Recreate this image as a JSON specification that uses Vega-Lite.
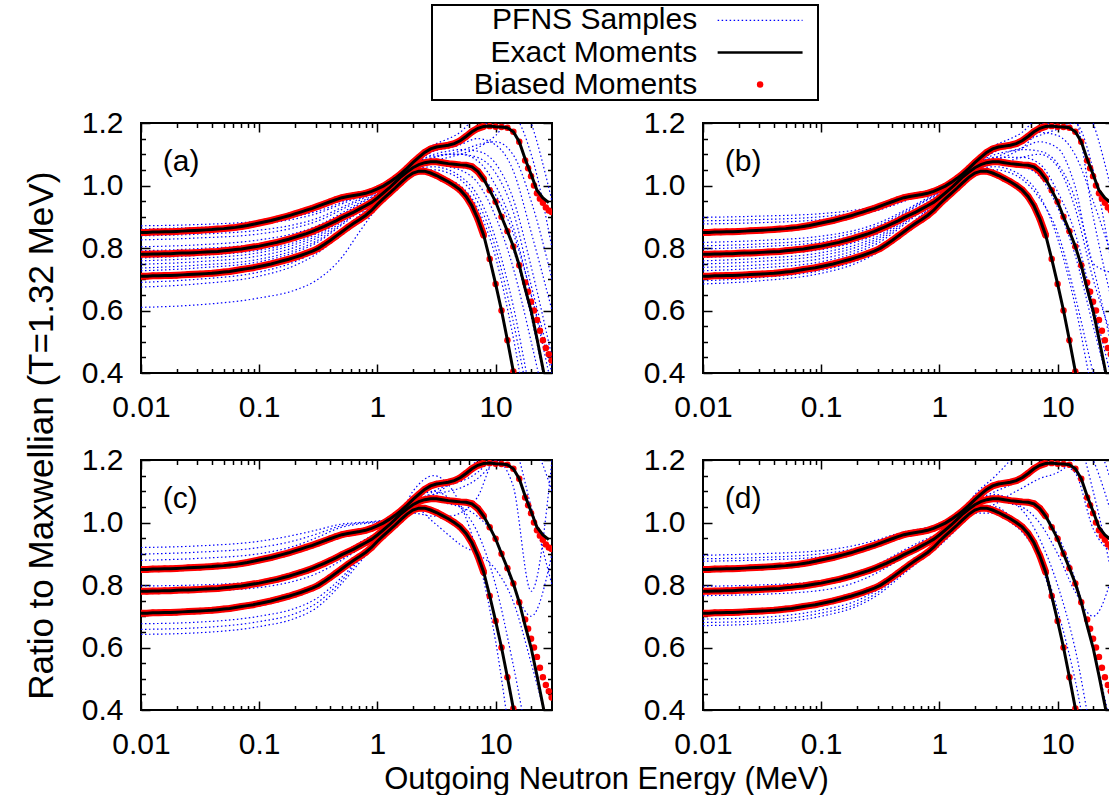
{
"$schema":"https://vega.github.io/schema/vega-lite/v6.json",
"padding":{"left":25,"top":4,"right":0,"bottom":0},
"config":{"font":"Liberation Sans","view":{"stroke":"black","strokeWidth":2},
"axis":{"tickColor":"black","tickWidth":1.5,"labelFontSize":30,"labelColor":"black","labelFont":"Liberation Sans","domain":false,"grid":false},
"title":{"fontSize":30,"fontWeight":"normal","color":"black","font":"Liberation Sans"}},
"datasets":{
"moments":[
{"e":0.01,"a":0.850,"b":0.780,"c":0.710},{"e":0.01122,"a":0.850,"b":0.780,"c":0.710},{"e":0.01259,"a":0.851,"b":0.781,"c":0.711},{"e":0.01413,"a":0.851,"b":0.781,"c":0.711},{"e":0.01585,"a":0.852,"b":0.782,"c":0.712},{"e":0.01778,"a":0.852,"b":0.782,"c":0.712},{"e":0.01995,"a":0.853,"b":0.783,"c":0.713},{"e":0.02239,"a":0.854,"b":0.784,"c":0.714},{"e":0.02512,"a":0.855,"b":0.784,"c":0.715},{"e":0.02818,"a":0.856,"b":0.785,"c":0.716},
{"e":0.03162,"a":0.857,"b":0.786,"c":0.717},{"e":0.03548,"a":0.858,"b":0.787,"c":0.718},{"e":0.03981,"a":0.859,"b":0.788,"c":0.719},{"e":0.04467,"a":0.861,"b":0.789,"c":0.721},{"e":0.05012,"a":0.862,"b":0.791,"c":0.723},{"e":0.05623,"a":0.864,"b":0.793,"c":0.725},{"e":0.0631,"a":0.866,"b":0.795,"c":0.728},{"e":0.07079,"a":0.869,"b":0.797,"c":0.731},{"e":0.07943,"a":0.872,"b":0.800,"c":0.734},{"e":0.08913,"a":0.876,"b":0.803,"c":0.737},
{"e":0.1,"a":0.880,"b":0.806,"c":0.741},{"e":0.1122,"a":0.884,"b":0.810,"c":0.745},{"e":0.1259,"a":0.888,"b":0.814,"c":0.749},{"e":0.1413,"a":0.893,"b":0.818,"c":0.754},{"e":0.1585,"a":0.898,"b":0.823,"c":0.759},{"e":0.1778,"a":0.903,"b":0.828,"c":0.764},{"e":0.1995,"a":0.909,"b":0.834,"c":0.770},{"e":0.2239,"a":0.915,"b":0.840,"c":0.776},{"e":0.2512,"a":0.921,"b":0.846,"c":0.783},{"e":0.2818,"a":0.927,"b":0.853,"c":0.790},
{"e":0.3162,"a":0.934,"b":0.861,"c":0.799},{"e":0.3548,"a":0.941,"b":0.869,"c":0.811},{"e":0.3981,"a":0.948,"b":0.878,"c":0.824},{"e":0.4467,"a":0.955,"b":0.887,"c":0.838},{"e":0.5012,"a":0.961,"b":0.897,"c":0.852},{"e":0.5623,"a":0.965,"b":0.906,"c":0.866},{"e":0.631,"a":0.968,"b":0.915,"c":0.879},{"e":0.7079,"a":0.971,"b":0.925,"c":0.891},{"e":0.7943,"a":0.975,"b":0.935,"c":0.904},{"e":0.8913,"a":0.981,"b":0.946,"c":0.920},
{"e":1.0,"a":0.989,"b":0.960,"c":0.940},{"e":1.122,"a":0.998,"b":0.976,"c":0.958},{"e":1.259,"a":1.010,"b":0.992,"c":0.975},{"e":1.413,"a":1.023,"b":1.010,"c":0.992},{"e":1.585,"a":1.038,"b":1.028,"c":1.010},{"e":1.778,"a":1.055,"b":1.043,"c":1.027},{"e":1.995,"a":1.073,"b":1.057,"c":1.040},{"e":2.239,"a":1.090,"b":1.067,"c":1.046},{"e":2.512,"a":1.106,"b":1.073,"c":1.046},{"e":2.818,"a":1.117,"b":1.076,"c":1.040},
{"e":3.162,"a":1.123,"b":1.076,"c":1.032},{"e":3.548,"a":1.126,"b":1.073,"c":1.022},{"e":3.981,"a":1.129,"b":1.070,"c":1.012},{"e":4.467,"a":1.134,"b":1.068,"c":1.000},{"e":5.012,"a":1.143,"b":1.066,"c":0.986},{"e":5.623,"a":1.157,"b":1.065,"c":0.965},{"e":6.31,"a":1.172,"b":1.060,"c":0.935},{"e":7.079,"a":1.183,"b":1.045,"c":0.893},{"e":7.943,"a":1.189,"b":1.020,"c":0.840},{"e":8.913,"a":1.190,"b":0.985,"c":0.765},
{"e":10.0,"a":1.188,"b":0.948,"c":0.685},{"e":11.22,"a":1.187,"b":0.900,"c":0.600},{"e":12.59,"a":1.185,"b":0.854,"c":0.505},{"e":14.13,"a":1.172,"b":0.805,"c":0.405},{"e":15.85,"a":1.140,"b":0.745,"c":0.300},{"e":17.78,"a":1.085,"b":0.670,"c":0.190},{"e":19.95,"a":1.036,"b":0.600,"c":0.080},{"e":22.39,"a":0.985,"b":0.510,"c":-0.03},{"e":25.12,"a":0.960,"b":0.415,"c":-0.14},{"e":28.18,"a":0.945,"b":0.320,"c":-0.25}
],
"tail":[
{"e":17.78,"a":1.080,"b":0.690},{"e":18.84,"a":1.055,"b":0.660},{"e":19.95,"a":1.030,"b":0.628},{"e":21.13,"a":1.000,"b":0.600},{"e":22.39,"a":0.975,"b":0.570},{"e":23.71,"a":0.958,"b":0.535},{"e":25.12,"a":0.945,"b":0.505},{"e":26.61,"a":0.930,"b":0.480},{"e":28.18,"a":0.920,"b":0.460},{"e":29.8,"a":0.915,"b":0.440}
],
"sa":[
{"e":0.01,"s1":0.871,"s2":0.861,"s3":0.839,"s4":0.826,"s5":0.804,"s6":0.791,"s7":0.768,"s8":0.759,"s9":0.748,"s10":0.736,"s11":0.727,"s12":0.690,"s13":0.675,"s14":0.610},
{"e":0.03,"s1":0.875,"s2":0.866,"s3":0.844,"s4":0.832,"s5":0.810,"s6":0.798,"s7":0.776,"s8":0.767,"s9":0.756,"s10":0.745,"s11":0.736,"s12":0.700,"s13":0.685,"s14":0.618},
{"e":0.1,"s1":0.886,"s2":0.877,"s3":0.857,"s4":0.845,"s5":0.826,"s6":0.814,"s7":0.793,"s8":0.785,"s9":0.775,"s10":0.764,"s11":0.756,"s12":0.723,"s13":0.710,"s14":0.640},
{"e":0.2,"s1":0.901,"s2":0.893,"s3":0.875,"s4":0.865,"s5":0.847,"s6":0.837,"s7":0.818,"s8":0.811,"s9":0.802,"s10":0.793,"s11":0.786,"s12":0.756,"s13":0.744,"s14":0.665},
{"e":0.3,"s1":0.916,"s2":0.909,"s3":0.893,"s4":0.884,"s5":0.869,"s6":0.860,"s7":0.844,"s8":0.837,"s9":0.830,"s10":0.821,"s11":0.815,"s12":0.789,"s13":0.779,"s14":0.695},
{"e":0.5,"s1":0.946,"s2":0.941,"s3":0.930,"s4":0.923,"s5":0.912,"s6":0.906,"s7":0.894,"s8":0.890,"s9":0.884,"s10":0.878,"s11":0.874,"s12":0.855,"s13":0.848,"s14":0.770},
{"e":0.7,"s1":0.968,"s2":0.964,"s3":0.957,"s4":0.952,"s5":0.944,"s6":0.940,"s7":0.932,"s8":0.929,"s9":0.925,"s10":0.921,"s11":0.917,"s12":0.905,"s13":0.899,"s14":0.850},
{"e":1,"s1":0.990,"s2":0.988,"s3":0.984,"s4":0.981,"s5":0.977,"s6":0.974,"s7":0.970,"s8":0.968,"s9":0.966,"s10":0.963,"s11":0.961,"s12":0.954,"s13":0.951,"s14":0.930},
{"e":1.5,"s1":1.03,"s2":1.03,"s3":1.025,"s4":1.02,"s5":1.025,"s6":1.02,"s7":1.01,"s8":1.02,"s9":1.015,"s10":1.02,"s11":1.02,"s12":1.005,"s13":1.01,"s14":1.0},
{"e":2,"s1":1.08,"s2":1.065,"s3":1.07,"s4":1.058,"s5":1.07,"s6":1.065,"s7":1.05,"s8":1.06,"s9":1.055,"s10":1.06,"s11":1.06,"s12":1.05,"s13":1.05,"s14":1.035},
{"e":3,"s1":1.13,"s2":1.10,"s3":1.11,"s4":1.076,"s5":1.11,"s6":1.095,"s7":1.06,"s8":1.09,"s9":1.07,"s10":1.09,"s11":1.08,"s12":1.05,"s13":1.07,"s14":1.04},
{"e":4,"s1":1.15,"s2":1.11,"s3":1.12,"s4":1.07,"s5":1.13,"s6":1.10,"s7":1.05,"s8":1.10,"s9":1.06,"s10":1.10,"s11":1.09,"s12":1.04,"s13":1.07,"s14":1.02},
{"e":5,"s1":1.17,"s2":1.115,"s3":1.13,"s4":1.066,"s5":1.15,"s6":1.10,"s7":1.03,"s8":1.11,"s9":1.05,"s10":1.10,"s11":1.10,"s12":1.02,"s13":1.06,"s14":1.00},
{"e":7,"s1":1.23,"s2":1.11,"s3":1.15,"s4":1.045,"s5":1.18,"s6":1.08,"s7":0.97,"s8":1.13,"s9":1.01,"s10":1.09,"s11":1.12,"s12":0.95,"s13":1.04,"s14":0.93},
{"e":10,"s1":1.30,"s2":1.07,"s3":1.13,"s4":0.948,"s5":1.22,"s6":1.00,"s7":0.83,"s8":1.14,"s9":0.90,"s10":1.04,"s11":1.16,"s12":0.80,"s13":0.97,"s14":0.77},
{"e":14,"s1":1.33,"s2":0.96,"s3":1.05,"s4":0.80,"s5":1.25,"s6":0.87,"s7":0.62,"s8":1.10,"s9":0.74,"s10":0.92,"s11":1.22,"s12":0.57,"s13":0.85,"s14":0.52},
{"e":20,"s1":1.20,"s2":0.74,"s3":0.85,"s4":0.58,"s5":1.30,"s6":0.65,"s7":0.33,"s8":0.95,"s9":0.50,"s10":0.68,"s11":1.10,"s12":0.28,"s13":0.65,"s14":0.20},
{"e":30,"s1":0.95,"s2":0.45,"s3":0.60,"s4":0.25,"s5":1.25,"s6":0.40,"s7":0.10,"s8":0.70,"s9":0.20,"s10":0.42,"s11":0.80,"s12":0.05,"s13":0.35,"s14":0.00}
],
"sb":[
{"e":0.01,"s1":0.898,"s2":0.887,"s3":0.877,"s4":0.818,"s5":0.807,"s6":0.797,"s7":0.770,"s8":0.759,"s9":0.749,"s10":0.738,"s11":0.727,"s12":0.695,"s13":0.685},
{"e":0.03,"s1":0.902,"s2":0.891,"s3":0.881,"s4":0.824,"s5":0.813,"s6":0.804,"s7":0.778,"s8":0.767,"s9":0.757,"s10":0.746,"s11":0.736,"s12":0.705,"s13":0.695},
{"e":0.1,"s1":0.910,"s2":0.900,"s3":0.891,"s4":0.838,"s5":0.828,"s6":0.819,"s7":0.795,"s8":0.785,"s9":0.776,"s10":0.766,"s11":0.756,"s12":0.728,"s13":0.719},
{"e":0.2,"s1":0.922,"s2":0.914,"s3":0.906,"s4":0.858,"s5":0.850,"s6":0.842,"s7":0.820,"s8":0.811,"s9":0.803,"s10":0.794,"s11":0.786,"s12":0.760,"s13":0.752},
{"e":0.3,"s1":0.935,"s2":0.927,"s3":0.920,"s4":0.879,"s5":0.871,"s6":0.864,"s7":0.845,"s8":0.837,"s9":0.830,"s10":0.823,"s11":0.815,"s12":0.793,"s13":0.786},
{"e":0.5,"s1":0.958,"s2":0.954,"s3":0.949,"s4":0.919,"s5":0.914,"s6":0.909,"s7":0.895,"s8":0.890,"s9":0.885,"s10":0.879,"s11":0.874,"s12":0.858,"s13":0.853},
{"e":0.7,"s1":0.977,"s2":0.973,"s3":0.970,"s4":0.949,"s5":0.945,"s6":0.942,"s7":0.933,"s8":0.929,"s9":0.925,"s10":0.921,"s11":0.917,"s12":0.906,"s13":0.903},
{"e":1,"s1":0.995,"s2":0.993,"s3":0.991,"s4":0.980,"s5":0.977,"s6":0.975,"s7":0.970,"s8":0.968,"s9":0.966,"s10":0.964,"s11":0.961,"s12":0.955,"s13":0.953},
{"e":1.5,"s1":1.03,"s2":1.03,"s3":1.025,"s4":1.02,"s5":1.025,"s6":1.02,"s7":1.015,"s8":1.02,"s9":1.015,"s10":1.02,"s11":1.01,"s12":1.005,"s13":1.0},
{"e":2,"s1":1.08,"s2":1.07,"s3":1.07,"s4":1.065,"s5":1.07,"s6":1.058,"s7":1.065,"s8":1.06,"s9":1.055,"s10":1.06,"s11":1.05,"s12":1.05,"s13":1.045},
{"e":3,"s1":1.13,"s2":1.115,"s3":1.11,"s4":1.10,"s5":1.11,"s6":1.076,"s7":1.09,"s8":1.08,"s9":1.07,"s10":1.09,"s11":1.06,"s12":1.07,"s13":1.05},
{"e":4,"s1":1.15,"s2":1.125,"s3":1.13,"s4":1.11,"s5":1.13,"s6":1.07,"s7":1.09,"s8":1.10,"s9":1.065,"s10":1.11,"s11":1.05,"s12":1.08,"s13":1.04},
{"e":5,"s1":1.17,"s2":1.14,"s3":1.15,"s4":1.115,"s5":1.14,"s6":1.066,"s7":1.09,"s8":1.12,"s9":1.06,"s10":1.12,"s11":1.03,"s12":1.09,"s13":1.02},
{"e":7,"s1":1.23,"s2":1.17,"s3":1.18,"s4":1.11,"s5":1.16,"s6":1.045,"s7":1.07,"s8":1.18,"s9":1.03,"s10":1.14,"s11":0.97,"s12":1.10,"s13":0.96},
{"e":10,"s1":1.30,"s2":1.16,"s3":1.22,"s4":1.07,"s5":1.18,"s6":0.948,"s7":0.98,"s8":1.26,"s9":0.93,"s10":1.12,"s11":0.83,"s12":1.06,"s13":0.85},
{"e":14,"s1":1.33,"s2":1.10,"s3":1.25,"s4":0.96,"s5":1.20,"s6":0.80,"s7":0.85,"s8":1.22,"s9":0.78,"s10":1.00,"s11":0.62,"s12":0.93,"s13":0.65},
{"e":20,"s1":1.20,"s2":0.95,"s3":1.30,"s4":0.74,"s5":1.05,"s6":0.58,"s7":0.62,"s8":0.90,"s9":0.55,"s10":0.75,"s11":0.33,"s12":0.70,"s13":0.40},
{"e":30,"s1":0.95,"s2":0.75,"s3":1.25,"s4":0.45,"s5":0.70,"s6":0.25,"s7":0.35,"s8":0.60,"s9":0.30,"s10":0.72,"s11":0.10,"s12":0.50,"s13":0.15}
],
"sc":[
{"e":0.01,"s1":0.920,"s2":0.899,"s3":0.879,"s4":0.797,"s5":0.776,"s6":0.676,"s7":0.658,"s8":0.642},
{"e":0.03,"s1":0.925,"s2":0.905,"s3":0.885,"s4":0.800,"s5":0.780,"s6":0.681,"s7":0.663,"s8":0.647},
{"e":0.1,"s1":0.940,"s2":0.920,"s3":0.900,"s4":0.812,"s5":0.792,"s6":0.700,"s7":0.683,"s8":0.667},
{"e":0.2,"s1":0.960,"s2":0.942,"s3":0.925,"s4":0.832,"s5":0.813,"s6":0.725,"s7":0.708,"s8":0.693},
{"e":0.3,"s1":0.975,"s2":0.962,"s3":0.950,"s4":0.855,"s5":0.835,"s6":0.755,"s7":0.740,"s8":0.725},
{"e":0.5,"s1":0.995,"s2":0.990,"s3":0.985,"s4":0.900,"s5":0.880,"s6":0.825,"s7":0.815,"s8":0.805},
{"e":0.7,"s1":1.000,"s2":0.998,"s3":0.995,"s4":0.935,"s5":0.915,"s6":0.885,"s7":0.880,"s8":0.870},
{"e":1,"s1":1.005,"s2":1.003,"s3":1.000,"s4":0.970,"s5":0.955,"s6":0.950,"s7":0.945,"s8":0.940},
{"e":1.5,"s1":1.02,"s2":1.02,"s3":1.01,"s4":1.03,"s5":1.02,"s6":1.02,"s7":1.02,"s8":1.03},
{"e":2,"s1":1.05,"s2":1.10,"s3":1.03,"s4":1.07,"s5":1.06,"s6":1.05,"s7":1.06,"s8":1.07},
{"e":3,"s1":1.10,"s2":1.15,"s3":1.02,"s4":1.09,"s5":1.07,"s6":1.00,"s7":1.09,"s8":1.10},
{"e":4,"s1":1.12,"s2":1.12,"s3":1.02,"s4":1.10,"s5":1.06,"s6":0.96,"s7":1.12,"s8":1.08},
{"e":5,"s1":1.13,"s2":1.06,"s3":1.03,"s4":1.11,"s5":1.05,"s6":0.93,"s7":1.15,"s8":1.05},
{"e":7,"s1":1.16,"s2":0.90,"s3":1.08,"s4":1.14,"s5":1.02,"s6":0.90,"s7":1.20,"s8":0.97},
{"e":10,"s1":1.22,"s2":0.62,"s3":1.20,"s4":1.20,"s5":0.95,"s6":0.85,"s7":1.28,"s8":0.80},
{"e":14,"s1":1.30,"s2":0.25,"s3":1.12,"s4":1.27,"s5":0.80,"s6":0.75,"s7":1.25,"s8":0.55},
{"e":20,"s1":1.30,"s2":-0.10,"s3":0.78,"s4":1.25,"s5":0.70,"s6":0.55,"s7":1.05,"s8":0.25},
{"e":30,"s1":1.20,"s2":-0.40,"s3":1.20,"s4":1.10,"s5":0.90,"s6":0.30,"s7":0.80,"s8":0.00}
],
"sd":[
{"e":0.01,"s1":0.895,"s2":0.884,"s3":0.876,"s4":0.796,"s5":0.788,"s6":0.766,"s7":0.691,"s8":0.680,"s9":0.670},
{"e":0.03,"s1":0.900,"s2":0.888,"s3":0.880,"s4":0.800,"s5":0.792,"s6":0.770,"s7":0.696,"s8":0.685,"s9":0.676},
{"e":0.1,"s1":0.910,"s2":0.900,"s3":0.890,"s4":0.812,"s5":0.804,"s6":0.783,"s7":0.720,"s8":0.710,"s9":0.700},
{"e":0.2,"s1":0.928,"s2":0.918,"s3":0.910,"s4":0.838,"s5":0.830,"s6":0.810,"s7":0.750,"s8":0.740,"s9":0.732},
{"e":0.3,"s1":0.945,"s2":0.937,"s3":0.930,"s4":0.866,"s5":0.858,"s6":0.840,"s7":0.785,"s8":0.776,"s9":0.768},
{"e":0.5,"s1":0.970,"s2":0.963,"s3":0.958,"s4":0.912,"s5":0.905,"s6":0.890,"s7":0.850,"s8":0.842,"s9":0.836},
{"e":0.7,"s1":0.980,"s2":0.975,"s3":0.970,"s4":0.940,"s5":0.935,"s6":0.925,"s7":0.890,"s8":0.885,"s9":0.880},
{"e":1,"s1":0.993,"s2":0.990,"s3":0.988,"s4":0.968,"s5":0.965,"s6":0.960,"s7":0.935,"s8":0.930,"s9":0.925},
{"e":1.5,"s1":1.03,"s2":1.025,"s3":1.02,"s4":1.02,"s5":1.02,"s6":1.02,"s7":1.00,"s8":1.00,"s9":0.99},
{"e":2,"s1":1.09,"s2":1.07,"s3":1.06,"s4":1.06,"s5":1.065,"s6":1.05,"s7":1.03,"s8":1.05,"s9":1.04},
{"e":3,"s1":1.15,"s2":1.12,"s3":1.09,"s4":1.08,"s5":1.10,"s6":1.05,"s7":1.03,"s8":1.07,"s9":1.06},
{"e":4,"s1":1.20,"s2":1.13,"s3":1.07,"s4":1.07,"s5":1.12,"s6":1.02,"s7":1.00,"s8":1.06,"s9":1.09},
{"e":5,"s1":1.24,"s2":1.14,"s3":1.04,"s4":1.065,"s5":1.14,"s6":0.99,"s7":0.97,"s8":1.05,"s9":1.11},
{"e":7,"s1":1.30,"s2":1.18,"s3":0.95,"s4":1.04,"s5":1.19,"s6":0.90,"s7":0.88,"s8":1.00,"s9":1.14},
{"e":10,"s1":1.35,"s2":1.19,"s3":0.80,"s4":0.96,"s5":1.25,"s6":0.72,"s7":0.68,"s8":0.90,"s9":1.16},
{"e":14,"s1":1.30,"s2":1.16,"s3":0.60,"s4":0.82,"s5":1.30,"s6":0.50,"s7":0.42,"s8":0.78,"s9":1.20},
{"e":20,"s1":1.10,"s2":0.98,"s3":0.30,"s4":0.60,"s5":1.20,"s6":0.20,"s7":0.10,"s8":0.70,"s9":1.25},
{"e":30,"s1":0.80,"s2":0.90,"s3":0.10,"s4":0.30,"s5":1.00,"s6":0.00,"s7":-0.10,"s8":0.85,"s9":1.10}
]
},
"title":{"text":"Outgoing Neutron Energy (MeV)","orient":"bottom","anchor":"middle","dx":36,"offset":0,"fontSize":31},
"spacing":6,
"vconcat":[
{"spacing":0,"hconcat":[
{"width":290,"height":95,"view":{"stroke":null},"data":{"values":[{}]},"mark":{"type":"text","text":""},"encoding":{}},
{"width":386,"height":95,
"data":{"values":[{"k":1,"lab":"PFNS Samples"},{"k":2,"lab":"Exact Moments"},{"k":3,"lab":"Biased Moments"}]},
"encoding":{"y":{"field":"k","type":"ordinal","scale":{"type":"point","padding":0.48},"axis":null}},
"layer":[
{"mark":{"type":"text","align":"right","baseline":"middle","fontSize":30,"color":"black"},"encoding":{"x":{"datum":0.687,"type":"quantitative","scale":{"domain":[0,1]},"axis":null},"text":{"field":"lab"}}},
{"transform":[{"filter":"datum.k==1"}],"mark":{"type":"rule","color":"#0000ff","strokeWidth":1.2,"strokeDash":[1.5,2.5]},"encoding":{"x":{"datum":0.74,"type":"quantitative","axis":null},"x2":{"datum":0.96}}},
{"transform":[{"filter":"datum.k==2"}],"mark":{"type":"rule","color":"black","strokeWidth":2.5},"encoding":{"x":{"datum":0.74,"type":"quantitative","axis":null},"x2":{"datum":0.96}}},
{"transform":[{"filter":"datum.k==3"}],"mark":{"type":"point","filled":true,"color":"#ff0000","size":42,"opacity":1},"encoding":{"x":{"datum":0.85,"type":"quantitative","axis":null}}}
]}
]},
{"title":{"text":"Ratio to Maxwellian (T=1.32 MeV)","orient":"left","anchor":"middle","offset":20,"fontSize":35},
"spacing":16,
"vconcat":[
{"spacing":88,"hconcat":[
{"width":411,"height":250,"layer":[
{"data":{"name":"sa"},"transform":[{"fold":["s1","s2","s3","s4","s5","s6","s7","s8","s9","s10","s11","s12","s13","s14"],"as":["sample","v"]}],"mark":{"type":"line","clip":true,"interpolate":"monotone","color":"#0000ff","strokeWidth":1.2,"strokeDash":[1.5,2.5]},
"encoding":{"x":{"field":"e","type":"quantitative","scale":{"type":"log","domain":[0.01,30],"nice":false},"axis":{"orient":"bottom","values":[0.01,0.02,0.03,0.04,0.05,0.06,0.07,0.08,0.09,0.1,0.2,0.3,0.4,0.5,0.6,0.7,0.8,0.9,1,2,3,4,5,6,7,8,9,10,20],"labelExpr":"datum.value==0.01?'0.01':datum.value==0.1?'0.1':datum.value==1?'1':datum.value==10?'10':''","tickSize":{"condition":{"test":"datum.value==0.01||datum.value==0.1||datum.value==1||datum.value==10","value":-9},"value":-4.5},"labelPadding":28,"labelFlush":false,"labelOverlap":false,"labelBound":false,"title":null}},
"y":{"field":"v","type":"quantitative","scale":{"domain":[0.4,1.2],"nice":false},"axis":{"orient":"left","values":[0.4,0.45,0.5,0.55,0.6,0.65,0.7,0.75,0.8,0.85,0.9,0.95,1.0,1.05,1.1,1.15,1.2],"labelExpr":"abs(datum.value*5-round(datum.value*5))<0.01?format(datum.value,'.1f'):''","tickSize":{"condition":{"test":"abs(datum.value*5-round(datum.value*5))<0.01","value":-9},"value":-4.5},"labelPadding":27,"labelFlush":false,"labelOverlap":false,"title":null}},
"detail":{"field":"sample"}}},
{"data":{"name":"moments"},"transform":[{"filter":"datum.e<8"},{"fold":["a","b","c"],"as":["curve","v"]}],"mark":{"type":"line","clip":true,"color":"#ff0000","strokeWidth":7},
"encoding":{"x":{"field":"e","type":"quantitative","axis":null},"y":{"field":"v","type":"quantitative","axis":null},"detail":{"field":"curve"}}},
{"data":{"name":"moments"},"transform":[{"filter":"datum.e<17"},{"fold":["a","b","c"],"as":["curve","v"]}],"mark":{"type":"point","clip":true,"filled":true,"color":"#ff0000","size":42,"opacity":1},
"encoding":{"x":{"field":"e","type":"quantitative","axis":{"orient":"top","values":[0.01,0.02,0.03,0.04,0.05,0.06,0.07,0.08,0.09,0.1,0.2,0.3,0.4,0.5,0.6,0.7,0.8,0.9,1,2,3,4,5,6,7,8,9,10,20],"labels":false,"tickSize":{"condition":{"test":"datum.value==0.01||datum.value==0.1||datum.value==1||datum.value==10","value":-9},"value":-4.5},"title":null}},
"y":{"field":"v","type":"quantitative","axis":{"orient":"right","values":[0.4,0.45,0.5,0.55,0.6,0.65,0.7,0.75,0.8,0.85,0.9,0.95,1.0,1.05,1.1,1.15,1.2],"labels":false,"tickSize":{"condition":{"test":"abs(datum.value*5-round(datum.value*5))<0.01","value":-9},"value":-4.5},"title":null}}}},
{"data":{"name":"tail"},"transform":[{"fold":["a","b"],"as":["curve","v"]}],"mark":{"type":"point","clip":true,"filled":true,"color":"#ff0000","size":42,"opacity":1},
"encoding":{"x":{"field":"e","type":"quantitative","axis":null},"y":{"field":"v","type":"quantitative","axis":null}}},
{"data":{"name":"moments"},"transform":[{"fold":["a","b","c"],"as":["curve","v"]}],"mark":{"type":"line","clip":true,"color":"black","strokeWidth":3},
"encoding":{"x":{"field":"e","type":"quantitative","axis":null},"y":{"field":"v","type":"quantitative","axis":null},"detail":{"field":"curve"}}},
{"data":{"values":[{"t":"(a)"}]},"mark":{"type":"text","align":"left","baseline":"middle","fontSize":30,"color":"black"},
"encoding":{"x":{"datum":0.0153,"type":"quantitative","axis":null},"y":{"datum":1.075,"type":"quantitative","axis":null},"text":{"field":"t"}}}
],"resolve":{"axis":{"x":"independent","y":"independent"}}},
{"width":411,"height":250,"layer":[
{"data":{"name":"sb"},"transform":[{"fold":["s1","s2","s3","s4","s5","s6","s7","s8","s9","s10","s11","s12","s13"],"as":["sample","v"]}],"mark":{"type":"line","clip":true,"interpolate":"monotone","color":"#0000ff","strokeWidth":1.2,"strokeDash":[1.5,2.5]},
"encoding":{"x":{"field":"e","type":"quantitative","scale":{"type":"log","domain":[0.01,30],"nice":false},"axis":{"orient":"bottom","values":[0.01,0.02,0.03,0.04,0.05,0.06,0.07,0.08,0.09,0.1,0.2,0.3,0.4,0.5,0.6,0.7,0.8,0.9,1,2,3,4,5,6,7,8,9,10,20],"labelExpr":"datum.value==0.01?'0.01':datum.value==0.1?'0.1':datum.value==1?'1':datum.value==10?'10':''","tickSize":{"condition":{"test":"datum.value==0.01||datum.value==0.1||datum.value==1||datum.value==10","value":-9},"value":-4.5},"labelPadding":28,"labelFlush":false,"labelOverlap":false,"labelBound":false,"title":null}},
"y":{"field":"v","type":"quantitative","scale":{"domain":[0.4,1.2],"nice":false},"axis":{"orient":"left","values":[0.4,0.45,0.5,0.55,0.6,0.65,0.7,0.75,0.8,0.85,0.9,0.95,1.0,1.05,1.1,1.15,1.2],"labelExpr":"abs(datum.value*5-round(datum.value*5))<0.01?format(datum.value,'.1f'):''","tickSize":{"condition":{"test":"abs(datum.value*5-round(datum.value*5))<0.01","value":-9},"value":-4.5},"labelPadding":27,"labelFlush":false,"labelOverlap":false,"title":null}},
"detail":{"field":"sample"}}},
{"data":{"name":"moments"},"transform":[{"filter":"datum.e<8"},{"fold":["a","b","c"],"as":["curve","v"]}],"mark":{"type":"line","clip":true,"color":"#ff0000","strokeWidth":7},
"encoding":{"x":{"field":"e","type":"quantitative","axis":null},"y":{"field":"v","type":"quantitative","axis":null},"detail":{"field":"curve"}}},
{"data":{"name":"moments"},"transform":[{"filter":"datum.e<17"},{"fold":["a","b","c"],"as":["curve","v"]}],"mark":{"type":"point","clip":true,"filled":true,"color":"#ff0000","size":42,"opacity":1},
"encoding":{"x":{"field":"e","type":"quantitative","axis":{"orient":"top","values":[0.01,0.02,0.03,0.04,0.05,0.06,0.07,0.08,0.09,0.1,0.2,0.3,0.4,0.5,0.6,0.7,0.8,0.9,1,2,3,4,5,6,7,8,9,10,20],"labels":false,"tickSize":{"condition":{"test":"datum.value==0.01||datum.value==0.1||datum.value==1||datum.value==10","value":-9},"value":-4.5},"title":null}},
"y":{"field":"v","type":"quantitative","axis":{"orient":"right","values":[0.4,0.45,0.5,0.55,0.6,0.65,0.7,0.75,0.8,0.85,0.9,0.95,1.0,1.05,1.1,1.15,1.2],"labels":false,"tickSize":{"condition":{"test":"abs(datum.value*5-round(datum.value*5))<0.01","value":-9},"value":-4.5},"title":null}}}},
{"data":{"name":"tail"},"transform":[{"fold":["a","b"],"as":["curve","v"]}],"mark":{"type":"point","clip":true,"filled":true,"color":"#ff0000","size":42,"opacity":1},
"encoding":{"x":{"field":"e","type":"quantitative","axis":null},"y":{"field":"v","type":"quantitative","axis":null}}},
{"data":{"name":"moments"},"transform":[{"fold":["a","b","c"],"as":["curve","v"]}],"mark":{"type":"line","clip":true,"color":"black","strokeWidth":3},
"encoding":{"x":{"field":"e","type":"quantitative","axis":null},"y":{"field":"v","type":"quantitative","axis":null},"detail":{"field":"curve"}}},
{"data":{"values":[{"t":"(b)"}]},"mark":{"type":"text","align":"left","baseline":"middle","fontSize":30,"color":"black"},
"encoding":{"x":{"datum":0.0153,"type":"quantitative","axis":null},"y":{"datum":1.075,"type":"quantitative","axis":null},"text":{"field":"t"}}}
],"resolve":{"axis":{"x":"independent","y":"independent"}}}
]},
{"spacing":88,"hconcat":[
{"width":411,"height":250,"layer":[
{"data":{"name":"sc"},"transform":[{"fold":["s1","s2","s3","s4","s5","s6","s7","s8"],"as":["sample","v"]}],"mark":{"type":"line","clip":true,"interpolate":"monotone","color":"#0000ff","strokeWidth":1.2,"strokeDash":[1.5,2.5]},
"encoding":{"x":{"field":"e","type":"quantitative","scale":{"type":"log","domain":[0.01,30],"nice":false},"axis":{"orient":"bottom","values":[0.01,0.02,0.03,0.04,0.05,0.06,0.07,0.08,0.09,0.1,0.2,0.3,0.4,0.5,0.6,0.7,0.8,0.9,1,2,3,4,5,6,7,8,9,10,20],"labelExpr":"datum.value==0.01?'0.01':datum.value==0.1?'0.1':datum.value==1?'1':datum.value==10?'10':''","tickSize":{"condition":{"test":"datum.value==0.01||datum.value==0.1||datum.value==1||datum.value==10","value":-9},"value":-4.5},"labelPadding":28,"labelFlush":false,"labelOverlap":false,"labelBound":false,"title":null}},
"y":{"field":"v","type":"quantitative","scale":{"domain":[0.4,1.2],"nice":false},"axis":{"orient":"left","values":[0.4,0.45,0.5,0.55,0.6,0.65,0.7,0.75,0.8,0.85,0.9,0.95,1.0,1.05,1.1,1.15,1.2],"labelExpr":"abs(datum.value*5-round(datum.value*5))<0.01?format(datum.value,'.1f'):''","tickSize":{"condition":{"test":"abs(datum.value*5-round(datum.value*5))<0.01","value":-9},"value":-4.5},"labelPadding":27,"labelFlush":false,"labelOverlap":false,"title":null}},
"detail":{"field":"sample"}}},
{"data":{"name":"moments"},"transform":[{"filter":"datum.e<8"},{"fold":["a","b","c"],"as":["curve","v"]}],"mark":{"type":"line","clip":true,"color":"#ff0000","strokeWidth":7},
"encoding":{"x":{"field":"e","type":"quantitative","axis":null},"y":{"field":"v","type":"quantitative","axis":null},"detail":{"field":"curve"}}},
{"data":{"name":"moments"},"transform":[{"filter":"datum.e<17"},{"fold":["a","b","c"],"as":["curve","v"]}],"mark":{"type":"point","clip":true,"filled":true,"color":"#ff0000","size":42,"opacity":1},
"encoding":{"x":{"field":"e","type":"quantitative","axis":{"orient":"top","values":[0.01,0.02,0.03,0.04,0.05,0.06,0.07,0.08,0.09,0.1,0.2,0.3,0.4,0.5,0.6,0.7,0.8,0.9,1,2,3,4,5,6,7,8,9,10,20],"labels":false,"tickSize":{"condition":{"test":"datum.value==0.01||datum.value==0.1||datum.value==1||datum.value==10","value":-9},"value":-4.5},"title":null}},
"y":{"field":"v","type":"quantitative","axis":{"orient":"right","values":[0.4,0.45,0.5,0.55,0.6,0.65,0.7,0.75,0.8,0.85,0.9,0.95,1.0,1.05,1.1,1.15,1.2],"labels":false,"tickSize":{"condition":{"test":"abs(datum.value*5-round(datum.value*5))<0.01","value":-9},"value":-4.5},"title":null}}}},
{"data":{"name":"tail"},"transform":[{"fold":["a","b"],"as":["curve","v"]}],"mark":{"type":"point","clip":true,"filled":true,"color":"#ff0000","size":42,"opacity":1},
"encoding":{"x":{"field":"e","type":"quantitative","axis":null},"y":{"field":"v","type":"quantitative","axis":null}}},
{"data":{"name":"moments"},"transform":[{"fold":["a","b","c"],"as":["curve","v"]}],"mark":{"type":"line","clip":true,"color":"black","strokeWidth":3},
"encoding":{"x":{"field":"e","type":"quantitative","axis":null},"y":{"field":"v","type":"quantitative","axis":null},"detail":{"field":"curve"}}},
{"data":{"values":[{"t":"(c)"}]},"mark":{"type":"text","align":"left","baseline":"middle","fontSize":30,"color":"black"},
"encoding":{"x":{"datum":0.0153,"type":"quantitative","axis":null},"y":{"datum":1.075,"type":"quantitative","axis":null},"text":{"field":"t"}}}
],"resolve":{"axis":{"x":"independent","y":"independent"}}},
{"width":411,"height":250,"layer":[
{"data":{"name":"sd"},"transform":[{"fold":["s1","s2","s3","s4","s5","s6","s7","s8","s9"],"as":["sample","v"]}],"mark":{"type":"line","clip":true,"interpolate":"monotone","color":"#0000ff","strokeWidth":1.2,"strokeDash":[1.5,2.5]},
"encoding":{"x":{"field":"e","type":"quantitative","scale":{"type":"log","domain":[0.01,30],"nice":false},"axis":{"orient":"bottom","values":[0.01,0.02,0.03,0.04,0.05,0.06,0.07,0.08,0.09,0.1,0.2,0.3,0.4,0.5,0.6,0.7,0.8,0.9,1,2,3,4,5,6,7,8,9,10,20],"labelExpr":"datum.value==0.01?'0.01':datum.value==0.1?'0.1':datum.value==1?'1':datum.value==10?'10':''","tickSize":{"condition":{"test":"datum.value==0.01||datum.value==0.1||datum.value==1||datum.value==10","value":-9},"value":-4.5},"labelPadding":28,"labelFlush":false,"labelOverlap":false,"labelBound":false,"title":null}},
"y":{"field":"v","type":"quantitative","scale":{"domain":[0.4,1.2],"nice":false},"axis":{"orient":"left","values":[0.4,0.45,0.5,0.55,0.6,0.65,0.7,0.75,0.8,0.85,0.9,0.95,1.0,1.05,1.1,1.15,1.2],"labelExpr":"abs(datum.value*5-round(datum.value*5))<0.01?format(datum.value,'.1f'):''","tickSize":{"condition":{"test":"abs(datum.value*5-round(datum.value*5))<0.01","value":-9},"value":-4.5},"labelPadding":27,"labelFlush":false,"labelOverlap":false,"title":null}},
"detail":{"field":"sample"}}},
{"data":{"name":"moments"},"transform":[{"filter":"datum.e<8"},{"fold":["a","b","c"],"as":["curve","v"]}],"mark":{"type":"line","clip":true,"color":"#ff0000","strokeWidth":7},
"encoding":{"x":{"field":"e","type":"quantitative","axis":null},"y":{"field":"v","type":"quantitative","axis":null},"detail":{"field":"curve"}}},
{"data":{"name":"moments"},"transform":[{"filter":"datum.e<17"},{"fold":["a","b","c"],"as":["curve","v"]}],"mark":{"type":"point","clip":true,"filled":true,"color":"#ff0000","size":42,"opacity":1},
"encoding":{"x":{"field":"e","type":"quantitative","axis":{"orient":"top","values":[0.01,0.02,0.03,0.04,0.05,0.06,0.07,0.08,0.09,0.1,0.2,0.3,0.4,0.5,0.6,0.7,0.8,0.9,1,2,3,4,5,6,7,8,9,10,20],"labels":false,"tickSize":{"condition":{"test":"datum.value==0.01||datum.value==0.1||datum.value==1||datum.value==10","value":-9},"value":-4.5},"title":null}},
"y":{"field":"v","type":"quantitative","axis":{"orient":"right","values":[0.4,0.45,0.5,0.55,0.6,0.65,0.7,0.75,0.8,0.85,0.9,0.95,1.0,1.05,1.1,1.15,1.2],"labels":false,"tickSize":{"condition":{"test":"abs(datum.value*5-round(datum.value*5))<0.01","value":-9},"value":-4.5},"title":null}}}},
{"data":{"name":"tail"},"transform":[{"fold":["a","b"],"as":["curve","v"]}],"mark":{"type":"point","clip":true,"filled":true,"color":"#ff0000","size":42,"opacity":1},
"encoding":{"x":{"field":"e","type":"quantitative","axis":null},"y":{"field":"v","type":"quantitative","axis":null}}},
{"data":{"name":"moments"},"transform":[{"fold":["a","b","c"],"as":["curve","v"]}],"mark":{"type":"line","clip":true,"color":"black","strokeWidth":3},
"encoding":{"x":{"field":"e","type":"quantitative","axis":null},"y":{"field":"v","type":"quantitative","axis":null},"detail":{"field":"curve"}}},
{"data":{"values":[{"t":"(d)"}]},"mark":{"type":"text","align":"left","baseline":"middle","fontSize":30,"color":"black"},
"encoding":{"x":{"datum":0.0153,"type":"quantitative","axis":null},"y":{"datum":1.075,"type":"quantitative","axis":null},"text":{"field":"t"}}}
],"resolve":{"axis":{"x":"independent","y":"independent"}}}
]}
]}
]
}
